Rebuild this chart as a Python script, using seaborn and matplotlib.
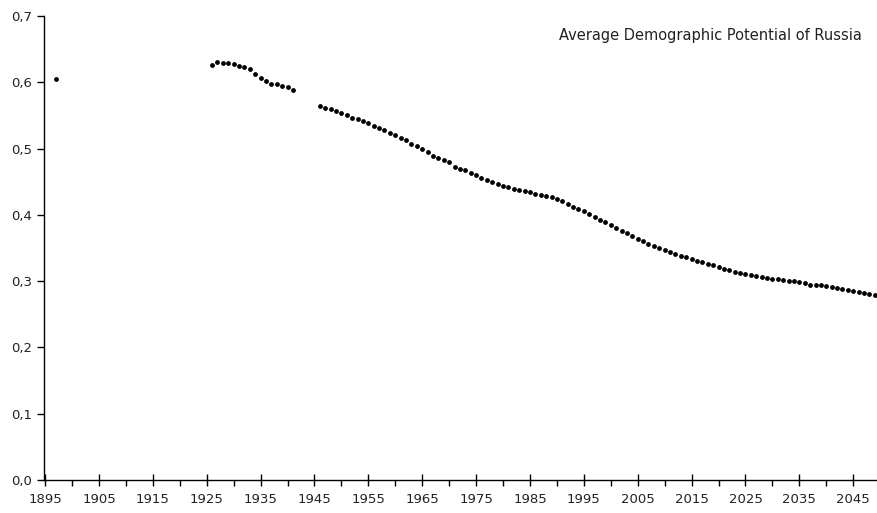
import matplotlib
matplotlib.use("Agg")
import matplotlib.pyplot as plt
from matplotlib.ticker import FuncFormatter, FixedLocator, MultipleLocator
import seaborn as sns
import pandas as pd

# census point
years_1897 = [1897]
values_1897 = [0.605]

# interwar years
years_1926 = list(range(1926, 1942))
values_1926 = [0.6265, 0.630, 0.6295, 0.629, 0.628, 0.625, 0.623, 0.620,
               0.6125, 0.607, 0.602, 0.597, 0.597, 0.5945, 0.5934, 0.588]

# post-war and projection
years_1946 = list(range(1946, 2050))
values_1946 = [
    0.5646, 0.5616, 0.5596, 0.5561, 0.5535, 0.5500, 0.5465, 0.5440, 0.5410, 0.5380,
    0.5344, 0.5304, 0.5274, 0.5238, 0.5204, 0.5163, 0.5128, 0.5075, 0.5033, 0.4988,
    0.4942, 0.4891, 0.4852, 0.4822, 0.4792, 0.4726, 0.4695, 0.4671, 0.4626, 0.4600,
    0.4560, 0.4530, 0.4499, 0.4469, 0.4441, 0.4414, 0.4389, 0.4369, 0.4359, 0.4339,
    0.4314, 0.4299, 0.4284, 0.4268, 0.4238, 0.4203, 0.4163, 0.4118, 0.4087, 0.4062,
    0.4012, 0.3969, 0.3926, 0.3891, 0.3851, 0.3806, 0.3761, 0.3721, 0.3680, 0.3640,
    0.3605, 0.3564, 0.3525, 0.3499, 0.3469, 0.3439, 0.3414, 0.3383, 0.3369, 0.3340,
    0.3308, 0.3288, 0.3258, 0.3243, 0.3217, 0.3178, 0.3163, 0.3137, 0.3122, 0.3107,
    0.3087, 0.3072, 0.3062, 0.3051, 0.3036, 0.3027, 0.3011, 0.3006, 0.2997, 0.2982,
    0.2967, 0.2946, 0.2941, 0.2941, 0.2926, 0.2916, 0.2896, 0.2876, 0.2866, 0.2846,
    0.2836, 0.2816, 0.2801, 0.2786,
]

major_years = list(range(1895, 2050, 10))
minor_years = list(range(1900, 2050, 10))
title = "Average Demographic Potential of Russia"

df = pd.DataFrame({
    "year": years_1897 + years_1926 + years_1946,
    "value": values_1897 + values_1926 + values_1946,
})

sns.set_theme(style="white")
plt.rcParams["font.family"] = ["DejaVu Sans"]

fig = plt.figure(figsize=(8.78, 5.13), dpi=100)
ax = fig.add_axes([0.0501, 0.0643, 0.9499, 0.9045])

sns.scatterplot(data=df, x="year", y="value", ax=ax, color="black",
                s=12, linewidth=0, legend=False)

ax.set_xlim(1894.8, 2049.6)
ax.set_ylim(0, 0.7)
ax.xaxis.set_major_locator(FixedLocator(major_years))
ax.xaxis.set_minor_locator(FixedLocator(minor_years))
ax.yaxis.set_major_locator(MultipleLocator(0.1))
ax.yaxis.set_major_formatter(FuncFormatter(lambda v, p: f"{v:.1f}".replace(".", ",")))
ax.set_xlabel("")
ax.set_ylabel("")

for side in ["top", "right"]:
    ax.spines[side].set_visible(False)
for side in ["left", "bottom"]:
    ax.spines[side].set_color("black")
    ax.spines[side].set_linewidth(1)

ax.tick_params(axis="x", which="major", direction="inout", length=8, width=1,
               color="black", labelsize=9.5, labelcolor="#222222", pad=5,
               bottom=True)
ax.tick_params(axis="x", which="minor", direction="out", length=4, width=1,
               color="black", bottom=True)
ax.tick_params(axis="y", which="major", direction="out", length=5, width=1,
               color="black", labelsize=9.5, labelcolor="#222222", left=True)

ax.text(0.981, 0.959, title, transform=ax.transAxes, ha="right", va="center",
        fontsize=10.5, color="#222222")

fig.savefig("out.png", dpi=100)
